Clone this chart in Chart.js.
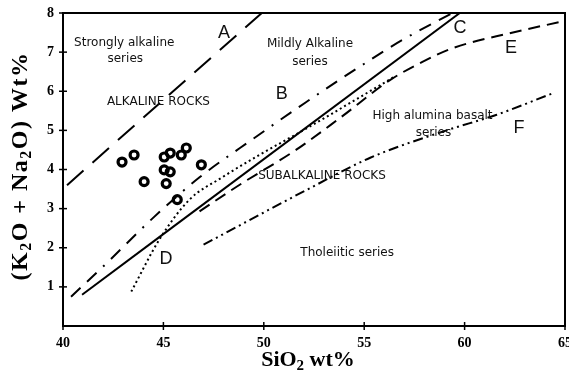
<!DOCTYPE html>
<html><head><meta charset="utf-8">
<script src="https://cdn.jsdelivr.net/npm/chart.js@4"></script>
<style>html,body{margin:0;padding:0;background:#fff;overflow:hidden}</style>
</head><body>
<canvas id="c" width="569" height="378"></canvas>
<script>
// ---- data ----
const xTickValues = [40, 45, 50, 55, 60, 65];
const yTickValues = [1, 2, 3, 4, 5, 6, 7, 8];

const lineA_x = [40.2, 49.9];
const lineA_y = [3.6, 8.0];

const lineB_x = [40.4, 42.1, 44.5, 46.8, 49.6, 52.1, 54.9, 56.9, 59.4];
const lineB_y = [0.75, 1.57, 2.77, 3.8, 4.83, 5.72, 6.67, 7.31, 8.0];

const lineC_x = [40.95, 59.76];
const lineC_y = [0.8, 8.0];

const lineD_x = [43.4, 44.8, 46.3, 47.9, 49.8, 51.3, 53.3, 56.5];
const lineD_y = [0.88, 2.21, 3.23, 3.79, 4.38, 4.81, 5.4, 6.37];

const lineE_x = [46.8, 48.8, 51.6, 53.8, 56.3, 57.9, 59.4, 62.3, 64.75];
const lineE_y = [2.93, 3.61, 4.5, 5.32, 6.29, 6.75, 7.1, 7.49, 7.77];

const lineF_x = [47.0, 52.4, 55.3, 59.1, 61.6, 64.4];
const lineF_y = [2.08, 3.55, 4.3, 5.0, 5.4, 5.95];

const sampleSiO2 = [42.94, 43.54, 44.04, 45.04, 45.34, 45.04, 45.34, 45.14, 45.89, 46.14, 46.89, 45.69];
const sampleAlk  = [4.19, 4.37, 3.69, 4.32, 4.42, 3.99, 3.94, 3.64, 4.37, 4.55, 4.12, 3.23];

const fieldLabels = [
  ["Strongly alkaline", 43.05, 7.23, "s"],
  ["series", 43.1, 6.82, "s"],
  ["Mildly Alkaline", 52.3, 7.21, "s"],
  ["series", 52.3, 6.75, "s"],
  ["ALKALINE ROCKS", 44.75, 5.73, "s"],
  ["High alumina basalt", 58.4, 5.37, "s"],
  ["series", 58.45, 4.94, "s"],
  ["SUBALKALINE ROCKS", 52.9, 3.84, "s"],
  ["Tholeiitic series", 54.15, 1.88, "s"],
  ["A", 48.02, 7.49, "b"],
  ["B", 50.9, 5.93, "b"],
  ["C", 59.77, 7.61, "b"],
  ["D", 45.13, 1.7, "b"],
  ["E", 62.31, 7.1, "b"],
  ["F", 62.71, 5.06, "b"]
];

// ---- build ----
const zip = (xs, ys) => xs.map((x, i) => ({x: x, y: ys[i]}));
function lineSet(xs, ys, dash) {
  return {
    data: zip(xs, ys), showLine: true, pointRadius: 0, borderColor: '#000',
    borderWidth: 2, borderDash: dash, fill: false, cubicInterpolationMode: 'monotone'
  };
}

const decor = {
  id: 'decor',
  afterDraw(chart) {
    const ctx = chart.ctx, a = chart.chartArea;
    const xs = chart.scales.x, ys = chart.scales.y;
    ctx.save();
    ctx.strokeStyle = '#000';
    ctx.lineWidth = 2;
    ctx.setLineDash([]);
    ctx.strokeRect(a.left, a.top, a.right - a.left, a.bottom - a.top);
    ctx.lineWidth = 1.5;
    xTickValues.forEach(v => {
      const p = xs.getPixelForValue(v);
      ctx.beginPath(); ctx.moveTo(p, a.bottom - 4); ctx.lineTo(p, a.bottom + 4); ctx.stroke();
    });
    yTickValues.forEach(v => {
      const p = ys.getPixelForValue(v);
      ctx.beginPath(); ctx.moveTo(a.left - 4, p); ctx.lineTo(a.left + 4, p); ctx.stroke();
    });
    // field labels
    ctx.fillStyle = '#111';
    ctx.textAlign = 'center';
    ctx.textBaseline = 'middle';
    fieldLabels.forEach(l => {
      ctx.font = l[3] === 'b' ? '18px "Liberation Sans", sans-serif' : '12px "DejaVu Sans", sans-serif';
      ctx.fillText(l[0], xs.getPixelForValue(l[1]), ys.getPixelForValue(l[2]));
    });
    // axis titles with subscripts
    function drawParts(parts, big, small) {
      let w = 0;
      parts.forEach(p => { ctx.font = p[1] ? small : big; w += ctx.measureText(p[0]).width; });
      let x = -w / 2;
      ctx.textAlign = 'left';
      parts.forEach(p => {
        ctx.font = p[1] ? small : big;
        ctx.fillText(p[0], x, p[1] ? 6 : 0);
        x += ctx.measureText(p[0]).width;
      });
    }
    ctx.fillStyle = '#000';
    ctx.textBaseline = 'middle';
    ctx.save();
    ctx.translate(308, 360);
    drawParts([["SiO", 0], ["2", 1], [" wt%", 0]], 'bold 22px "Liberation Serif", serif', 'bold 15px "Liberation Serif", serif');
    ctx.restore();
    ctx.save();
    ctx.translate(21, 166);
    ctx.rotate(-Math.PI / 2);
    ctx.letterSpacing = '1.5px';
    drawParts([["(K", 0], ["2", 1], ["O + Na", 0], ["2", 1], ["O) Wt%", 0]], 'bold 24px "Liberation Serif", serif', 'bold 16px "Liberation Serif", serif');
    ctx.restore();
    ctx.restore();
  }
};

new Chart(document.getElementById('c'), {
  type: 'scatter',
  data: {
    datasets: [
      lineSet(lineA_x, lineA_y, [22, 12]),
      lineSet(lineB_x, lineB_y, [13, 9, 13, 9, 2, 9]),
      lineSet(lineC_x, lineC_y, []),
      lineSet(lineD_x, lineD_y, [2, 3]),
      lineSet(lineE_x, lineE_y, [12, 7]),
      lineSet(lineF_x, lineF_y, [10, 4, 2, 4, 2, 4]),
      {
        data: zip(sampleSiO2, sampleAlk), showLine: false, pointRadius: 4,
        pointBorderWidth: 3.2, borderColor: '#000', backgroundColor: 'rgba(255,255,255,0)',
        pointBackgroundColor: 'rgba(255,255,255,0)', pointBorderColor: '#000'
      }
    ]
  },
  options: {
    responsive: false, animation: false, devicePixelRatio: 1,
    layout: {autoPadding: false, padding: {top: 13, right: 4, left: 0, bottom: 0}},
    plugins: {legend: {display: false}, tooltip: {enabled: false}},
    scales: {
      x: {
        type: 'linear', min: 40, max: 65,
        afterFit: s => { s.height = 52; s.paddingLeft = 0; s.paddingRight = 0; },
        afterBuildTicks: s => { s.ticks = xTickValues.map(v => ({value: v})); },
        grid: {display: false, drawTicks: false},
        border: {display: false},
        ticks: {color: '#000', padding: 9, font: {family: '"Liberation Serif", serif', size: 14, weight: 'bold'}}
      },
      y: {
        type: 'linear', min: 0, max: 8,
        afterFit: s => { s.width = 63; s.paddingTop = 0; s.paddingBottom = 0; },
        afterBuildTicks: s => { s.ticks = yTickValues.map(v => ({value: v})); },
        grid: {display: false, drawTicks: false},
        border: {display: false},
        ticks: {color: '#000', padding: 9, font: {family: '"Liberation Serif", serif', size: 14, weight: 'bold'}}
      }
    }
  },
  plugins: [decor]
});
</script>
</body></html>
